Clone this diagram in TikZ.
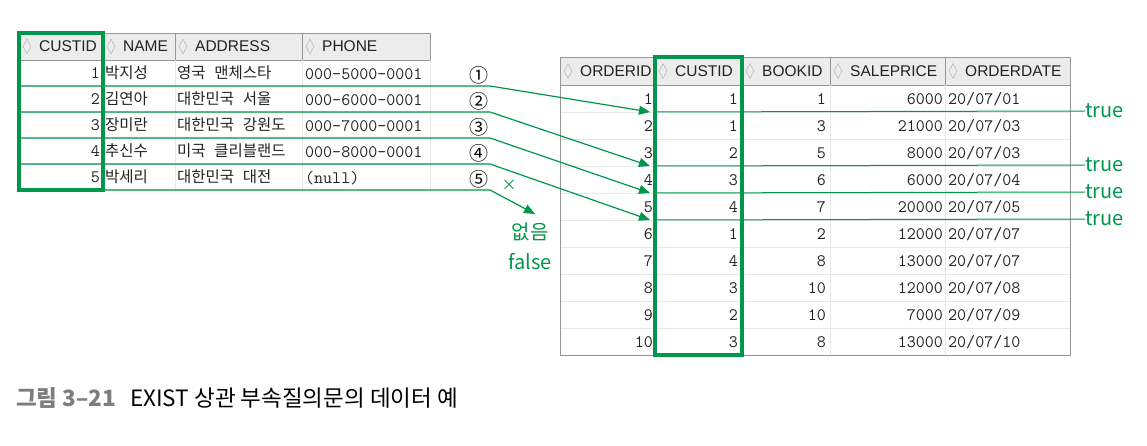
\documentclass[tikz,border=0pt]{standalone}
\usepackage{fontspec}
\setmainfont{Noto Sans CJK KR}
\newfontfamily\hdrfont{Liberation Sans}
\newfontfamily\cellfont[WordSpace=2.5]{Noto Sans CJK KR}
\usetikzlibrary{arrows.meta, shapes.geometric}
\definecolor{MarkGreen}{RGB}{0,150,75}
\definecolor{GridGray}{RGB}{232,232,232}
\definecolor{EdgeGray}{RGB}{150,150,150}
\definecolor{HeadFill}{RGB}{236,236,236}
\definecolor{CellText}{RGB}{35,35,35}
\definecolor{CapGray}{RGB}{125,125,125}

\begin{document}
\begin{tikzpicture}[x=1pt,y=-1pt,
        head/.style={draw=EdgeGray,fill=HeadFill},
        grid/.style={draw=GridGray,line width=0.8pt},
        hdr/.style={anchor=west,inner sep=0pt,text=CellText,
                    font=\hdrfont\fontsize{15.5}{15.5}\selectfont},
        sorticon/.style={diamond,draw=EdgeGray!80,inner sep=0pt,
                         minimum width=8pt,minimum height=15pt},
        num/.style={anchor=east,inner sep=0pt,text=CellText,
                    font=\ttfamily\fontsize{17.5}{17.5}\selectfont},
        txt/.style={anchor=west,inner sep=0pt,text=CellText,
                    font=\cellfont\fontsize{15.5}{15.5}\selectfont},
        pick/.style={draw=MarkGreen,line width=3.5pt},
        link/.style={draw=MarkGreen,line width=1.2pt},
        arrow/.style={link,-{Triangle[length=11pt,width=9pt]}},
        verdict/.style={inner sep=0pt,text=MarkGreen,font=\fontsize{20}{20}\selectfont}]
  \useasboundingbox (0,0) rectangle (1147,446);

  % CUSTOMER
  \foreach \xa/\xb/\hd [count=\i] in {19/103/CUSTID,103/175/NAME,175/302/ADDRESS,302/430/PHONE}{
    \draw[head] (\xa,33) rectangle (\xb,60);
    \node[sorticon] (licon\i) at (\xa+8,46.5) {};
    \node[hdr] (lhead\i) at (\xa+20,46.5) {\hd};
  }
  \foreach \y in {86,112,138,164,190} \draw[grid] (19,\y) -- (430,\y);
  \foreach \x in {175,302,430} \draw[grid] (\x,60) -- (\x,190);
  \foreach \id/\nm/\ad/\ph [count=\r] in {1/박지성/영국 맨체스타/000-5000-0001,
      2/김연아/대한민국 서울/000-6000-0001,3/장미란/대한민국 강원도/000-7000-0001,
      4/추신수/미국 클리블랜드/000-8000-0001,5/박세리/대한민국 대전/(null)}{
    \node[num] (lid\r) at (100,47+26*\r) {\id};
    \node[txt] (lnm\r) at (105,47+26*\r) {\nm};
    \node[txt] (lad\r) at (177,47+26*\r) {\ad};
    \node[num,anchor=west] (lph\r) at (305,48+26*\r) {\ph};
  }

  % ORDERS
  \foreach \xa/\xb/\hd [count=\i] in {560/655/ORDERID,655/742/CUSTID,742/830/BOOKID,
      830/945/SALEPRICE,945/1070/ORDERDATE}{
    \draw[head] (\xa,57) rectangle (\xb,85);
    \node[sorticon] (ricon\i) at (\xa+8,71) {};
    \node[hdr] (rhead\i) at (\xa+20,71) {\hd};
  }
  \foreach \y in {112,139,...,328} \draw[grid] (560,\y) -- (1070,\y);
  \foreach \x in {742,830,945} \draw[grid] (\x,85) -- (\x,355);
  \draw[EdgeGray,line width=0.8pt] (560,85) -- (560,355) -- (1070,355) -- (1070,85);
  \foreach \o/\c/\b/\p/\d [count=\r] in {1/1/1/6000/01,2/1/3/21000/03,3/2/5/8000/03,
      4/3/6/6000/04,5/4/7/20000/05,6/1/2/12000/07,7/4/8/13000/07,8/3/10/12000/08,
      9/2/10/7000/09,10/3/8/13000/10}{
    \node[num] (roid\r) at (653,72.5+27*\r) {\o};
    \node[num] (rcid\r) at (738,72.5+27*\r) {\c};
    \node[num] (rbid\r) at (826,72.5+27*\r) {\b};
    \node[num] (rsp\r) at (943,72.5+27*\r) {\p};
    \node[num,anchor=west] (rdt\r) at (948,72.5+27*\r) {20/07/\d};
  }

  % links
  \foreach \i/\ya/\yb in {1/86/112,2/112/166,3/138/193,4/164/220}{
    \coordinate (s\i) at (19,\ya);
    \coordinate (k\i) at (490,\ya);
    \coordinate (t\i) at (650,\yb);
    \coordinate (e\i) at (655,\yb);
    \node[verdict,anchor=west] (true\i) at (1085,\yb-1) {true};
    \draw[arrow] (s\i) -- (k\i) -- (t\i);
    \draw[link,line width=1pt] (e\i) -- (true\i.west);
  }
  \coordinate (s5) at (19,190);
  \coordinate (k5) at (490,190);
  \coordinate (t5) at (535,214);
  \node[verdict] (none) at (530,232) {없음};
  \node[verdict] (false) at (530,262) {false};
  \draw[arrow] (s5) -- (k5) -- (t5);
  \node[verdict,font=\fontsize{15}{15}\selectfont] (cross) at (509,185) {×};
  \foreach \c [count=\i] in {①,②,③,④,⑤}
    \node[inner sep=0pt,font=\fontsize{19}{19}\selectfont] (no\i) at (479,49+26*\i) {\c};

  \draw[pick] (19,33) rectangle (103,190);
  \draw[pick] (655,57) rectangle (742,355);

  \node[anchor=west,inner sep=0pt,font=\fontsize{22.5}{22.5}\selectfont] (caption) at (16,398)
    {\textcolor{CapGray}{\bfseries 그림 3–21}\hspace{14pt}EXIST 상관 부속질의문의 데이터 예};
\end{tikzpicture}
\end{document}
